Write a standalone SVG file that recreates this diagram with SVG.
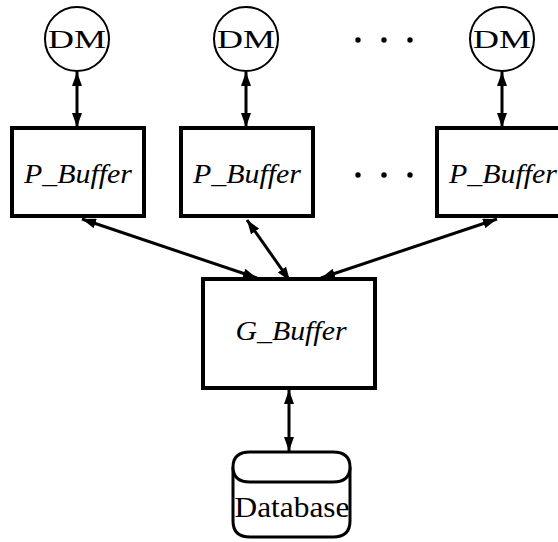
<svg xmlns="http://www.w3.org/2000/svg" width="558" height="542" viewBox="0 0 558 542">
<defs>
<marker id="ah" viewBox="0 0 14 10" refX="14" refY="5" markerWidth="14" markerHeight="10" markerUnits="userSpaceOnUse" orient="auto-start-reverse">
<path d="M0,0 L14,5 L0,10 Z" fill="#000"/>
</marker>
</defs>
<style>
.dm{fill:#fff;stroke:#000;stroke-width:2}
.box{fill:#fff;stroke:#000;stroke-width:4}
.db{fill:#fff;stroke:#000;stroke-width:3}
.lab{font-family:"Liberation Serif","Times New Roman",serif;fill:#000;text-anchor:middle}
.it{font-style:italic}
.conn{stroke:#000;stroke-width:3;fill:none;marker-start:url(#ah);marker-end:url(#ah)}
.dot{fill:#000}
</style>
<rect width="558" height="542" fill="#fff"/>
<g id="connectors">
<line class="conn" x1="77" y1="72" x2="77" y2="127"/>
<line class="conn" x1="246" y1="72" x2="246" y2="127"/>
<line class="conn" x1="502" y1="72" x2="502" y2="127"/>
<line class="conn" x1="82" y1="219" x2="257" y2="278"/>
<line class="conn" x1="247" y1="220" x2="290" y2="281"/>
<line class="conn" x1="497" y1="219" x2="321" y2="278"/>
<line class="conn" x1="289" y1="390" x2="289" y2="451"/>
</g>
<g id="dm1"><circle class="dm" cx="77" cy="39" r="32"/><text class="lab" x="77" y="48" font-size="26" textLength="58" lengthAdjust="spacingAndGlyphs">DM</text></g>
<g id="dm2"><circle class="dm" cx="246" cy="39" r="32"/><text class="lab" x="246" y="48" font-size="26" textLength="58" lengthAdjust="spacingAndGlyphs">DM</text></g>
<g id="dm3"><circle class="dm" cx="502" cy="39" r="32"/><text class="lab" x="502" y="48" font-size="26" textLength="58" lengthAdjust="spacingAndGlyphs">DM</text></g>
<g id="dots-top"><circle class="dot" cx="358" cy="40" r="2.7"/><circle class="dot" cx="384" cy="40" r="2.7"/><circle class="dot" cx="410" cy="40" r="2.7"/></g>
<g id="dots-mid"><circle class="dot" cx="358" cy="175" r="2.7"/><circle class="dot" cx="384" cy="175" r="2.7"/><circle class="dot" cx="410" cy="175" r="2.7"/></g>
<g id="pbuf1"><rect class="box" x="12" y="128" width="132" height="88"/><text class="lab it" x="78" y="183" font-size="28" textLength="108" lengthAdjust="spacingAndGlyphs">P_Buffer</text></g>
<g id="pbuf2"><rect class="box" x="181" y="128" width="132" height="88"/><text class="lab it" x="247" y="183" font-size="28" textLength="108" lengthAdjust="spacingAndGlyphs">P_Buffer</text></g>
<g id="pbuf3"><rect class="box" x="437" y="128" width="132" height="88"/><text class="lab it" x="503" y="183" font-size="28" textLength="108" lengthAdjust="spacingAndGlyphs">P_Buffer</text></g>
<g id="gbuf"><rect class="box" x="203" y="279" width="172" height="109"/><text class="lab it" x="291" y="340" font-size="28" textLength="111" lengthAdjust="spacingAndGlyphs">G_Buffer</text></g>
<g id="database">
<path class="db" d="M250,452 H333 Q350,452 350,467 V521 Q350,537 333,537 H250 Q233,537 233,521 V467 Q233,452 250,452 Z"/>
<path class="db" d="M233,467 Q233,482 250,482 H333 Q350,482 350,467"/>
<text class="lab" x="292" y="517" font-size="29" textLength="115" lengthAdjust="spacingAndGlyphs">Database</text>
</g>
</svg>
